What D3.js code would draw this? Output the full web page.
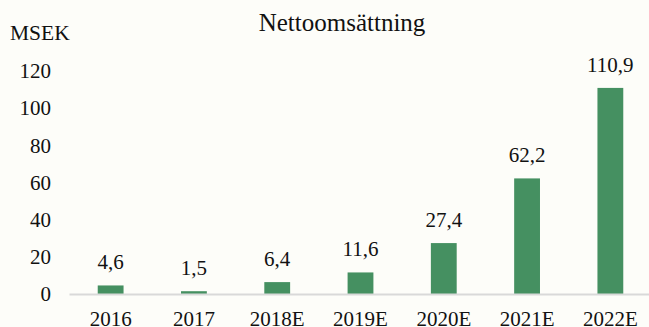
<!DOCTYPE html>
<html>
<head>
<meta charset="utf-8">
<script src="https://cdn.jsdelivr.net/npm/d3@7"></script>
</head>
<body style="margin:0; background:#fdfdf9">
<svg id="chart" width="649" height="327" font-family="'Times New Roman', 'Liberation Serif', serif"></svg>
<script>
var years = ["2016", "2017", "2018E", "2019E", "2020E", "2021E", "2022E"];
var values = [4.6, 1.5, 6.4, 11.6, 27.4, 62.2, 110.9];
var yTicks = [0, 20, 40, 60, 80, 100, 120];

var fontStack = "'Times New Roman', 'Liberation Serif', serif";

var svg = d3.select("svg#chart"),
    margin = {top: 71, right: -3, bottom: 33, left: 69},
    width = +svg.attr("width") - margin.left - margin.right,
    height = +svg.attr("height") - margin.top - margin.bottom;

var data = years.map(function(y, i) { return {year: y, value: values[i]}; });

var x = d3.scaleBand().domain(years).range([0, width]).paddingInner(0.69).paddingOuter(0.345);
var y = d3.scaleLinear().domain([0, 120]).range([height, 0]);

svg.append("rect").attr("width", 649).attr("height", 327).attr("fill", "#fdfdf9");

// title
svg.append("text")
    .attr("x", 342)
    .attr("y", 31)
    .attr("text-anchor", "middle")
    .style("font-family", fontStack)
    .style("font-size", "25px")
    .attr("fill", "#111")
    .text("Nettoomsättning");

svg.append("text")
    .attr("x", 10)
    .attr("y", 40)
    .style("font-family", fontStack)
    .style("font-size", "21.5px")
    .attr("fill", "#111")
    .text("MSEK");

var g = svg.append("g")
    .attr("transform", "translate(" + margin.left + "," + margin.top + ")");

// y axis labels, no line
g.append("g")
    .call(d3.axisLeft(y).tickValues(yTicks).tickSize(0).tickPadding(18))
    .attr("font-family", null)
    .call(function(a) { a.select(".domain").remove(); })
    .selectAll("text")
    .style("font-size", "21px")
    .style("font-family", fontStack)
    .attr("fill", "#111");

g.selectAll(".bar")
    .data(data)
  .enter().append("rect")
    .attr("class", "bar")
    .attr("x", function(d) { return x(d.year); })
    .attr("y", function(d) { return y(d.value); })
    .attr("width", x.bandwidth())
    .attr("height", function(d) { return height - y(d.value); })
    .attr("fill", "#459061");

// baseline
g.append("g")
    .attr("transform", "translate(0," + height + ")")
    .call(d3.axisBottom(x).tickSize(0).tickPadding(17))
    .attr("font-family", null)
    .call(function(a) { a.select(".domain").attr("stroke", "#d9d9d9").attr("stroke-width", 2); })
    .selectAll("text")
    .style("font-size", "21px")
    .style("font-family", fontStack)
    .attr("fill", "#111");

g.selectAll(".label")
    .data(data)
  .enter().append("text")
    .attr("class", "label")
    .attr("x", function(d) { return x(d.year) + x.bandwidth() / 2; })
    .attr("y", function(d) { return y(d.value) - 16; })
    .attr("text-anchor", "middle")
    .style("font-family", fontStack)
    .style("font-size", "21px")
    .attr("fill", "#111")
    .text(function(d) { return d3.format(".1f")(d.value).replace(".", ","); });
</script>
</body>
</html>
